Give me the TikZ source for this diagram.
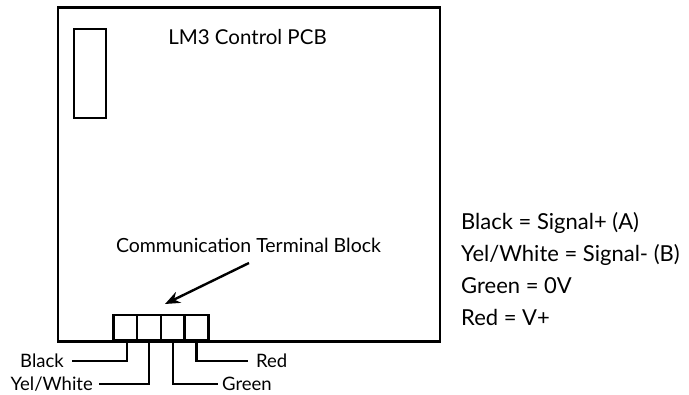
\documentclass[tikz,border=0pt]{standalone}
\usepackage{fontspec}
\setmainfont{Lato}
\usetikzlibrary{arrows.meta}
\tikzset{
  pcb/.style={draw, line width=2.4pt, line join=miter},
  cell/.style={draw, line width=2.4pt, minimum width=23.7pt, minimum height=25pt, inner sep=0pt, anchor=south west},
  wire/.style={draw, line width=2.2pt},
  lbl/.style={font=\fontsize{18.5}{22}\selectfont, inner sep=0pt},
  leg/.style={font=\fontsize{22}{26}\selectfont, inner sep=0pt, anchor=base west},
  pointer/.style={draw, line width=2.4pt, -{Stealth[length=15pt, width=12pt]}}
}
\begin{document}
\begin{tikzpicture}[x=1pt, y=-1pt]
\useasboundingbox (0,0) rectangle (689,395);
% board
\draw[pcb] (58,7.5) rectangle (440,341.5);
\node[draw, line width=2.4pt, minimum width=32pt, minimum height=89pt, inner sep=0pt, anchor=north west] (chip) at (73,28) {};
\node[lbl, font=\fontsize{20.5}{24}\selectfont, anchor=base] (title) at (247.5,45) {LM3 Control PCB};
% terminal block
\node[cell] (t1) at (112.3,341.5) {};
\node[cell] (t2) at (136,341.5) {};
\node[cell] (t3) at (159.7,341.5) {};
\node[cell] (t4) at (183.4,341.5) {};
% label and arrow
\node[lbl, font=\fontsize{19.5}{23}\selectfont, anchor=base] (comm) at (248.5,253) {Communication Terminal Block};
\coordinate (tail) at (249,263);
\coordinate (tip) at (165,304);
\draw[pointer] (tail) -- (tip);
% wire labels
\node[lbl, anchor=base east] (lblack) at (64,368) {Black};
\node[lbl, anchor=base east] (lyel) at (93,390.5) {Yel/White};
\node[lbl, anchor=base west] (lgreen) at (222,390.5) {Green};
\node[lbl, anchor=base west] (lred) at (256,368) {Red};
% wires
\draw[wire] (t1.south) ++(2,0) coordinate (w1) (w1) |- ([xshift=8pt]lblack.east);
\draw[wire] (t2.south) coordinate (w2) (w2) |- ([xshift=6pt]lyel.east);
\draw[wire] (t3.south) coordinate (w3) (w3) |- ([xshift=-4pt]lgreen.west);
\draw[wire] (t4.south) coordinate (w4) (w4) |- ([xshift=-8pt]lred.west);
% legend
\node[leg] (k1) at (461,230) {Black = Signal+ (A)};
\node[leg] (k2) at (461,262) {Yel/White = Signal- (B)};
\node[leg] (k3) at (461,294) {Green = 0V};
\node[leg] (k4) at (461,326) {Red = V+};
\end{tikzpicture}
\end{document}
